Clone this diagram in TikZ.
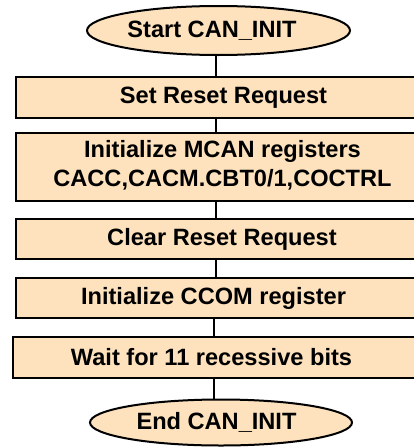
\documentclass[tikz,border=0pt]{standalone}
\usepackage{fontspec}
\setmainfont{Liberation Sans}
\usetikzlibrary{shapes.geometric}
\definecolor{peach}{RGB}{253,226,189}
\tikzset{
  box/.style={draw=black, line width=2pt, fill=peach, rectangle, inner sep=0, anchor=west},
  term/.style={draw=black, line width=2pt, fill=peach, ellipse, inner sep=0},
  txt/.style={inner sep=0, align=center, font=\fontsize{23.6}{29}\selectfont\bfseries},
  link/.style={draw=black, line width=2pt}
}
\begin{document}
\begin{tikzpicture}[x=1pt,y=-1pt]
\useasboundingbox (0,0) rectangle (414,447);
\clip (0,0) rectangle (414,447);
\coordinate (axis) at (216,0);
\coordinate (axisb) at (213.5,0);
% terminals
\node[term, minimum width=263, minimum height=49] (s) at (218.5,30.5) {};
\node[txt] (st) at (212,30.5) {Start CAN\_INIT};
\node[term, minimum width=262, minimum height=46] (e) at (221,422.5) {};
\node[txt] (et) at (216.5,422.5) {End CAN\_INIT};
% boxes
\node[box, minimum width=430, minimum height=41] (b1) at (15,97.5) {};
\node[txt] (t1) at (223.5,97.5) {Set Reset Request};
\node[box, minimum width=430, minimum height=68] (b2) at (15,167) {};
\node[txt] (t2) at (222.5,165) {Initialize MCAN registers\\CACC,CACM.CBT0/1,COCTRL};
\node[box, minimum width=430, minimum height=40] (b3) at (15,239) {};
\node[txt] (t3) at (222,239) {Clear Reset Request};
\node[box, minimum width=430, minimum height=40] (b4) at (15,298) {};
\node[txt] (t4) at (213.5,298) {Initialize CCOM register};
\node[box, minimum width=430, minimum height=41] (b5) at (12,357.5) {};
\node[txt] (t5) at (211.5,357.5) {Wait for 11 recessive bits};
% connectors
\draw[link] (s.south -| axis) -- (b1.north -| axis);
\draw[link] (b1.south -| axis) -- (b2.north -| axis);
\draw[link] (b2.south -| axis) -- (b3.north -| axis);
\draw[link] (b3.south -| axis) -- (b4.north -| axis);
\draw[link] (b4.south -| axisb) -- (b5.north -| axisb);
\draw[link] (b5.south -| axisb) -- (e.north -| axisb);
\end{tikzpicture}
\end{document}
